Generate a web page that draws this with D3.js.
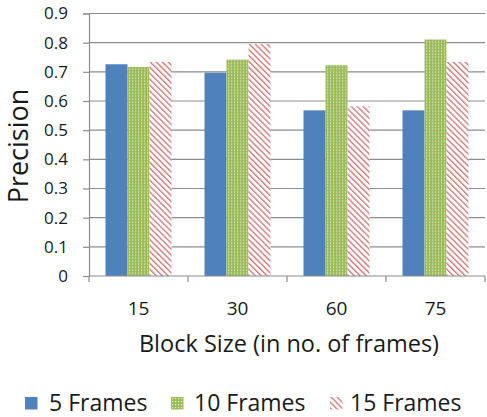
<!DOCTYPE html>
<html>
<head>
<meta charset="utf-8">
<script src="https://cdn.jsdelivr.net/npm/d3@7"></script>
<style>
  html, body { margin: 0; padding: 0; background: #fff; }
  svg { display: block; }
  text { font-family: "Open Sans", Lato, sans-serif; fill: #1a1a1a; }
</style>
</head>
<body>
<svg id="chart" width="487" height="417"></svg>
<script>
// Block sizes (frames) on the x axis
const categories = ["15", "30", "60", "75"];
// Series names shown in the legend
const seriesNames = ["5 Frames", "10 Frames", "15 Frames"];
// Precision per block size for each series
const frames5  = [0.726, 0.697, 0.568, 0.568];
const frames10 = [0.717, 0.742, 0.723, 0.811];
const frames15 = [0.734, 0.795, 0.582, 0.734];
// Y axis ticks
const yTicks = [0, 0.1, 0.2, 0.3, 0.4, 0.5, 0.6, 0.7, 0.8, 0.9];

const seriesValues = [frames5, frames10, frames15];
const rows = categories.map((c, i) => ({ cat: c, vals: seriesValues.map(s => s[i]) }));

const svg = d3.select("#chart");
const margin = { left: 89, right: 2, top: 13.5, bottom: 141 };
const W = 487, H = 417;
const plotW = W - margin.left - margin.right;
const plotH = H - margin.top - margin.bottom;

// Fill patterns: dotted green and diagonal red hatching
const defs = svg.append("defs");
const dots = defs.append("pattern").attr("id", "dots").attr("patternUnits", "userSpaceOnUse")
  .attr("width", 3).attr("height", 3);
dots.append("rect").attr("width", 3).attr("height", 3).attr("fill", "#9BBB59");
dots.append("rect").attr("x", 1).attr("y", 1).attr("width", 1.2).attr("height", 1.2).attr("fill", "#e4edcf");

const stripes = defs.append("pattern").attr("id", "stripes").attr("patternUnits", "userSpaceOnUse")
  .attr("width", 4.2).attr("height", 4.2).attr("patternTransform", "rotate(-45)");
stripes.append("rect").attr("width", 4.2).attr("height", 4.2).attr("fill", "#ffffff");
stripes.append("rect").attr("x", 0).attr("width", 1.4).attr("height", 4.2).attr("fill", "#C0504D").attr("opacity", 0.75);

const fills = ["#4F81BD", "url(#dots)", "url(#stripes)"];

const g = svg.append("g").attr("transform", `translate(${margin.left},${margin.top})`);

const x0 = d3.scaleBand().domain(categories).range([0, plotW]).paddingInner(0).paddingOuter(0);
const x1 = d3.scaleBand().domain(d3.range(seriesNames.length))
  .range([0, x0.bandwidth()]).paddingOuter(0.75).paddingInner(0);
const y = d3.scaleLinear().domain([0, 0.9]).range([plotH, 0]);

// Gridlines
g.append("g").selectAll("line").data(yTicks.filter(t => t > 0)).join("line")
  .attr("x1", 0).attr("x2", plotW)
  .attr("y1", d => y(d)).attr("y2", d => y(d))
  .attr("stroke", "#8c8c8c").attr("stroke-width", 1.2);

// Bars
g.append("g").selectAll("g").data(rows).join("g")
  .attr("transform", d => `translate(${x0(d.cat)},0)`)
  .selectAll("rect").data(d => d.vals.map((v, i) => ({ v, i }))).join("rect")
  .attr("x", d => x1(d.i)).attr("width", x1.bandwidth())
  .attr("y", d => y(d.v)).attr("height", d => plotH - y(d.v))
  .attr("fill", d => fills[d.i]);

// Y axis
const yAxis = g.append("g").call(d3.axisLeft(y).tickValues(yTicks).tickSize(6).tickPadding(15)
  .tickFormat(d => d === 0 ? "0" : d3.format(".1f")(d)));
yAxis.select(".domain").attr("stroke", "#8c8c8c").attr("stroke-width", 1.2);
yAxis.selectAll(".tick line").attr("stroke", "#8c8c8c").attr("stroke-width", 1.2);
yAxis.selectAll("text").attr("font-size", 17).attr("fill", "#1a1a1a")
  .style("font-family", "'Open Sans', sans-serif");

// X axis: baseline and boundary ticks
const xAxis = g.append("g").attr("transform", `translate(0,${plotH})`);
xAxis.append("line").attr("x1", 0).attr("x2", plotW).attr("stroke", "#8c8c8c").attr("stroke-width", 1.2);
xAxis.selectAll("line.b").data(categories.map(c => x0(c)).concat([plotW])).join("line")
  .attr("class", "b").attr("x1", d => d).attr("x2", d => d).attr("y1", 0).attr("y2", 6)
  .attr("stroke", "#8c8c8c").attr("stroke-width", 1.2);
xAxis.selectAll("text").data(categories).join("text")
  .attr("x", d => x0(d) + x0.bandwidth() / 2).attr("y", 315 - (margin.top + plotH))
  .attr("text-anchor", "middle").attr("font-size", 19).text(d => d);

// Axis titles
svg.append("text").attr("x", 289).attr("y", 352)
  .attr("text-anchor", "middle").attr("font-size", 23.5).text("Block Size (in no. of frames)");
svg.append("text").attr("transform", `translate(28,146) rotate(-90)`)
  .attr("text-anchor", "middle").attr("font-size", 27).text("Precision");

// Legend
const legendX = [25, 171, 330];
const lg = svg.append("g").selectAll("g").data(seriesNames).join("g")
  .attr("transform", (d, i) => `translate(${legendX[i]},397)`);
lg.append("rect").attr("width", 12.5).attr("height", 12.5).attr("fill", (d, i) => fills[i]);
lg.append("text").attr("x", (d, i) => [24, 23, 20][i]).attr("y", 14).attr("font-size", 23).text(d => d);
</script>
</body>
</html>
